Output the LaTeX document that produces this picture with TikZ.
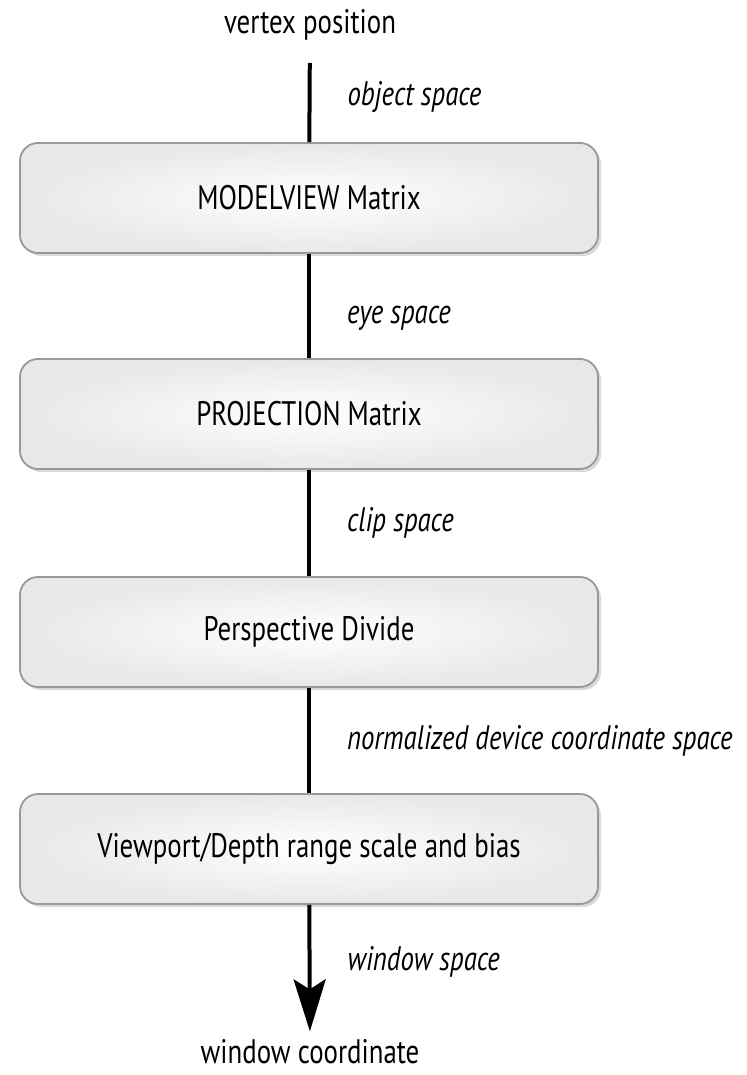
\documentclass[tikz,border=0pt]{standalone}
\usepackage{fontspec}
\setmainfont[FakeStretch=0.79]{PT Sans}
\usetikzlibrary{arrows.meta,positioning,shadows}
\tikzset{stage/.style={rounded corners=9, draw=black!40, line width=0.9pt, minimum width=289pt, minimum height=55pt, shading=radial, inner color=white, outer color=black!9, drop shadow={opacity=0.3, shadow xshift=1.5pt, shadow yshift=-1.5pt}, font=\fontsize{17}{20}\selectfont}}
\tikzset{term/.style={font=\fontsize{17}{20}\selectfont, inner sep=2pt}}
\tikzset{arr/.style={draw, line width=2pt}}
\tikzset{spc/.style={midway, anchor=west, inner sep=0pt, xshift=18pt, font=\fontsize{17}{20}\selectfont\itshape}}

\begin{document}
\begin{tikzpicture}[x=0.5pt, y=-0.5pt]
                \useasboundingbox (0,0) rectangle (746,1075);
                \node[term] (vpos) at (310,25) {vertex position};
                \node[stage] (mv) at (309,198) {MODELVIEW Matrix};
                \node[stage] (proj) at (309,414) {PROJECTION Matrix};
                \node[stage] (pdiv) at (309,632) {Perspective Divide};
                \node[stage] (vp) at (309,849) {Viewport/Depth range scale and bias};
                \node[term] (wcoord) at (310,1052) {window coordinate};

                \draw[arr, shorten <=9pt] (vpos) -- node[spc, yshift=-2pt] {object space} (mv);
                \draw[arr] (mv) -- node[spc, yshift=-6pt] {eye space} (proj);
                \draw[arr] (proj) -- node[spc] {clip space} (pdiv);
                \draw[arr] (pdiv) -- node[spc] {normalized device coordinate space} (vp);
                \draw[arr, -{Stealth[length=26pt, width=16pt, inset=5pt]}, shorten >=2pt] (vp) -- node[spc, yshift=4pt] {window space} (wcoord);
            \end{tikzpicture}
\end{document}
